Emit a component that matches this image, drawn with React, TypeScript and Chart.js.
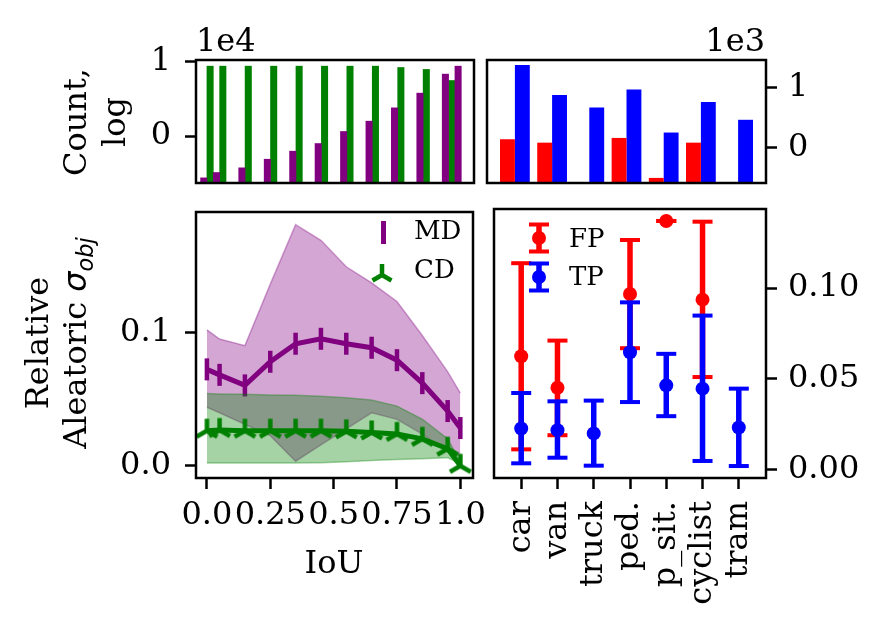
import { useEffect, useRef } from 'react';
import { Chart, ChartConfiguration, Plugin, registerables } from 'chart.js';

Chart.register(...registerables);

const SERIF = "'DejaVu Serif', serif";
const PURPLE = '#800080';
const GREEN = '#008000';
const RED = '#ff0000';
const BLUE = '#0000ff';

Chart.defaults.font.family = SERIF;
Chart.defaults.font.size = 32;
Chart.defaults.color = '#000';

// IoU bins shared by the count bars and the sigma curves
const iouBins = [0, 0.05, 0.15, 0.25, 0.35, 0.45, 0.55, 0.65, 0.75, 0.85, 0.95, 1.0];
const iouTicks = [0, 0.25, 0.5, 0.75, 1.0];
const iouTickLabels = ['0.0', '0.25', '0.5', '0.75', '1.0'];

// counts per IoU bin, shown in units of 1e4
const mdCounts = [-0.561, -0.489, -0.426, -0.31, -0.202, -0.099, 0.063, 0.202, 0.381, 0.579, 0.835, 0.942];
const cdCounts = [0.942, 0.942, 0.942, 0.942, 0.942, 0.942, 0.942, 0.942, 0.924, 0.898, 0.749, null];
const countTicks = [0, 1];

// relative aleatoric sigma_obj per IoU bin
const mdMean = [0.0722, 0.0681, 0.0602, 0.0779, 0.0914, 0.0951, 0.0914, 0.0884, 0.0791, 0.0619, 0.041, 0.0283];
const mdHigh = [0.1018, 0.0949, 0.09, 0.136, 0.1805, 0.1688, 0.149, 0.137, 0.123, 0.0976, 0.0705, 0.0545];
const mdLow = [0.0439, 0.0397, 0.031, 0.0226, 0.0035, 0.0157, 0.0277, 0.0397, 0.0348, 0.0238, 0.0103, 0.008];
const cdMean = [0.0263, 0.0268, 0.0263, 0.0263, 0.0263, 0.0263, 0.0258, 0.025, 0.0239, 0.0202, 0.0128, 0.0];
const cdHigh = [0.0541, 0.0538, 0.0535, 0.053, 0.0528, 0.0521, 0.0509, 0.0492, 0.0447, 0.0349, 0.0202, 0.003];
const cdLow = [0.0022, 0.0022, 0.0022, 0.0022, 0.0022, 0.0024, 0.003, 0.004, 0.0047, 0.0054, 0.0061, 0.0015];
const sigmaTicksLeft = [0, 0.1];

// per class
const classes = ['car', 'van', 'truck', 'ped.', 'p_sit.', 'cyclist', 'tram'];
const classIndex = classes.map((_, i) => i);
// counts, shown in units of 1e3
const fpCounts = [0.141, 0.084, null, 0.163, -0.505, 0.084, null];
const tpCounts = [1.38, 0.882, 0.673, 0.971, 0.253, 0.764, 0.466];
const classCountTicks = [0, 1];
// sigma_obj mean and error bar ends
const fpMean = [0.0624, 0.045, null, 0.0967, 0.137, 0.0936, null];
const fpLow = [0.011, 0.0188, null, 0.0668, 0.137, 0.0509, null];
const fpHigh = [0.1137, 0.071, null, 0.1265, 0.137, 0.1366, null];
const tpMean = [0.0225, 0.0216, 0.0198, 0.0646, 0.0463, 0.0445, 0.0231];
const tpLow = [0.0033, 0.0064, 0.002, 0.0371, 0.0293, 0.0046, 0.0018];
const tpHigh = [0.0421, 0.0375, 0.0379, 0.0921, 0.0637, 0.0848, 0.0445];
const sigmaTicksRight = [0, 0.05, 0.1];

// axis ranges
const IOU_MIN = -0.043;
const IOU_MAX = 1.05;
const CLASS_MIN = -0.75;
const CLASS_MAX = 6.75;
const COUNT_MIN = -0.63;
const COUNT_MAX = 1.025;
const CLASS_COUNT_MIN = -0.59;
const CLASS_COUNT_MAX = 1.465;

const tickGrid = {
  display: true,
  drawOnChartArea: false,
  drawTicks: true,
  offset: false,
  tickLength: 11,
  tickWidth: 2.5,
  tickColor: '#000',
};

const setTicks = (values: number[]) => (scale: any) => {
  scale.ticks = values.map(value => ({ value }));
};
const fixWidth = (w: number) => (scale: any) => {
  scale.width = w;
  scale.paddingTop = 0;
  scale.paddingBottom = 0;
};
const fixHeight = (h: number) => (scale: any) => {
  scale.height = h;
  scale.paddingLeft = 0;
  scale.paddingRight = 0;
};

// matplotlib style box round the plot area
const framePlugin: Plugin = {
  id: 'frame',
  afterDatasetsDraw(chart) {
    const { ctx, chartArea: a } = chart;
    ctx.save();
    ctx.strokeStyle = '#000';
    ctx.lineWidth = 2.5;
    ctx.strokeRect(a.left, a.top, a.right - a.left, a.bottom - a.top);
    ctx.restore();
  },
};

function triUp(color: string, r: number, lw: number) {
  const size = Math.ceil(2 * r + 2 * lw);
  const c = document.createElement('canvas');
  c.width = size;
  c.height = size;
  const g = c.getContext('2d')!;
  g.translate(size / 2, size / 2);
  g.strokeStyle = color;
  g.lineWidth = lw;
  g.beginPath();
  g.moveTo(0, 0);
  g.lineTo(0, -r);
  g.moveTo(0, 0);
  g.lineTo(-r * 0.866, r * 0.5);
  g.moveTo(0, 0);
  g.lineTo(r * 0.866, r * 0.5);
  g.stroke();
  return c;
}

const baseOptions = {
  animation: false as const,
  responsive: true,
  maintainAspectRatio: false,
  plugins: { legend: { display: false }, tooltip: { enabled: false } },
};

const countsByIou = (): ChartConfiguration => ({
  type: 'bar',
  data: {
    datasets: [
      { label: 'MD', data: iouBins.map((x, i) => ({ x, y: mdCounts[i] })) as any, backgroundColor: PURPLE, base: COUNT_MIN },
      { label: 'CD', data: iouBins.map((x, i) => ({ x, y: cdCounts[i] })) as any, backgroundColor: GREEN, base: COUNT_MIN },
    ],
  },
  options: {
    ...baseOptions,
    layout: { padding: { top: 20, right: 6, bottom: 17, left: 0 } },
    datasets: { bar: { categoryPercentage: 1, barPercentage: 1 } },
    scales: {
      x: { type: 'linear', min: IOU_MIN, max: IOU_MAX, offset: false, display: false },
      y: {
        type: 'linear', min: COUNT_MIN, max: COUNT_MAX,
        afterBuildTicks: setTicks(countTicks), afterFit: fixWidth(96),
        grid: tickGrid, border: { display: false },
        ticks: { padding: 14, callback: v => String(v) },
      },
    },
  } as any,
  plugins: [framePlugin],
});

const countsByClass = (): ChartConfiguration => ({
  type: 'bar',
  data: {
    datasets: [
      { label: 'FP', data: classIndex.map(x => ({ x, y: fpCounts[x] })) as any, backgroundColor: RED, base: CLASS_COUNT_MIN },
      { label: 'TP', data: classIndex.map(x => ({ x, y: tpCounts[x] })) as any, backgroundColor: BLUE, base: CLASS_COUNT_MIN },
    ],
  },
  options: {
    ...baseOptions,
    layout: { padding: { top: 20, right: 0, bottom: 17, left: 7 } },
    datasets: { bar: { categoryPercentage: 0.8, barPercentage: 1 } },
    scales: {
      x: { type: 'linear', min: CLASS_MIN, max: CLASS_MAX, offset: false, display: false },
      y: {
        type: 'linear', position: 'right', min: CLASS_COUNT_MIN, max: CLASS_COUNT_MAX,
        afterBuildTicks: setTicks(classCountTicks), afterFit: fixWidth(123),
        grid: tickGrid, border: { display: false },
        ticks: { padding: 11, callback: v => String(v) },
      },
    },
  } as any,
  plugins: [framePlugin],
});

const sigmaByIou = (): ChartConfiguration => {
  const pts = (ys: number[]) => iouBins.map((x, i) => ({ x, y: ys[i] }));
  const band = (color: string) => ({ borderColor: color, borderWidth: 1.5, pointRadius: 0, tension: 0 });
  return {
    type: 'line',
    data: {
      datasets: [
        { ...band('rgba(128,0,128,0.35)'), data: pts(mdHigh), fill: '+1', backgroundColor: 'rgba(128,0,128,0.35)', order: 6 },
        { ...band('rgba(128,0,128,0.35)'), data: pts(mdLow), fill: false, order: 5 },
        {
          label: 'MD', data: pts(mdMean), borderColor: PURPLE, borderWidth: 5, fill: false, order: 4,
          pointStyle: 'line', pointRotation: 90, pointRadius: 11, pointBorderWidth: 4.5, pointBorderColor: PURPLE,
        },
        { ...band('rgba(0,128,0,0.35)'), data: pts(cdHigh), fill: '+1', backgroundColor: 'rgba(0,128,0,0.35)', order: 3 },
        { ...band('rgba(0,128,0,0.35)'), data: pts(cdLow), fill: false, order: 2 },
        {
          label: 'CD', data: pts(cdMean), borderColor: GREEN, borderWidth: 5, fill: false, order: 1,
          pointStyle: triUp(GREEN, 12, 4.5), pointRadius: 12,
        },
      ] as any,
    },
    options: {
      ...baseOptions,
      // the last x label overhangs the right edge, so the canvas is wider and padded to match
      layout: { padding: { top: 13, right: 16, bottom: 0, left: 0 } },
      scales: {
        x: {
          type: 'linear', min: IOU_MIN, max: IOU_MAX,
          afterBuildTicks: setTicks(iouTicks), afterFit: fixHeight(160),
          grid: tickGrid, border: { display: false },
          ticks: { padding: 7, autoSkip: false, maxRotation: 0, minRotation: 0, callback: (_v: any, i: number) => iouTickLabels[i] },
        },
        y: {
          type: 'linear', min: -0.0091, max: 0.19,
          afterBuildTicks: setTicks(sigmaTicksLeft), afterFit: fixWidth(96),
          grid: tickGrid, border: { display: false },
          ticks: { padding: 14, callback: (v: any) => Number(v).toFixed(1) },
        },
      },
    } as any,
    plugins: [framePlugin],
  };
};

const sigmaByClass = (): ChartConfiguration => {
  const bars = (lo: (number | null)[], hi: (number | null)[]) =>
    classIndex.flatMap(x => (lo[x] == null ? [] : [{ x, y: lo[x] }, { x, y: hi[x] }, { x, y: null }]));
  const caps = (lo: (number | null)[], hi: (number | null)[]) =>
    classIndex.flatMap(x => (lo[x] == null ? [] : [{ x, y: lo[x] }, { x, y: hi[x] }]));
  const means = (m: (number | null)[]) => classIndex.filter(x => m[x] != null).map(x => ({ x, y: m[x] }));
  const series = (color: string, m: (number | null)[], lo: (number | null)[], hi: (number | null)[], order: number) => [
    { type: 'line', data: bars(lo, hi), borderColor: color, borderWidth: 5.5, pointRadius: 0, spanGaps: false, showLine: true, order: order + 2 },
    { data: caps(lo, hi), pointStyle: 'line', pointRadius: 10, pointBorderWidth: 4, pointBorderColor: color, order: order + 1 },
    { data: means(m), pointStyle: 'circle', pointRadius: 7, pointBorderWidth: 0, pointBackgroundColor: color, order },
  ];
  return {
    type: 'scatter',
    data: {
      datasets: [...series(RED, fpMean, fpLow, fpHigh, 4), ...series(BLUE, tpMean, tpLow, tpHigh, 1)] as any,
    },
    options: {
      ...baseOptions,
      layout: { padding: { top: 13, right: 0, bottom: 0, left: 7 } },
      scales: {
        x: {
          type: 'linear', min: CLASS_MIN, max: CLASS_MAX,
          afterBuildTicks: setTicks(classIndex), afterFit: fixHeight(160),
          grid: tickGrid, border: { display: false },
          ticks: { padding: 12, autoSkip: false, maxRotation: 90, minRotation: 90, callback: (v: any) => classes[v] },
        },
        y: {
          type: 'linear', position: 'right', min: -0.0048, max: 0.1436,
          afterBuildTicks: setTicks(sigmaTicksRight), afterFit: fixWidth(123),
          grid: tickGrid, border: { display: false },
          ticks: { padding: 11, callback: (v: any) => Number(v).toFixed(2) },
        },
      },
    } as any,
    plugins: [framePlugin],
  };
};

function Panel({ box, make }: { box: [number, number, number, number]; make: () => ChartConfiguration }) {
  const ref = useRef<HTMLCanvasElement>(null);
  useEffect(() => {
    if (!ref.current) return;
    const chart = new Chart(ref.current, make());
    return () => chart.destroy();
  }, [make]);
  return (
    <div style={{ position: 'absolute', left: box[0], top: box[1], width: box[2], height: box[3] }}>
      <canvas ref={ref} />
    </div>
  );
}

// place text by its baseline (line-height equal to font size)
function Text({ x, base, size = 32, align = 'left', children }: any) {
  const top = base - size * 0.846;
  const style: any = { position: 'absolute', top, fontSize: size, lineHeight: `${size}px`, fontFamily: SERIF, whiteSpace: 'nowrap' };
  if (align === 'left') style.left = x;
  if (align === 'right') style.right = 889 - x;
  if (align === 'center') Object.assign(style, { left: x - 150, width: 300, textAlign: 'center' });
  return <div style={style}>{children}</div>;
}

function RotatedTitle({ cx, cy, lh, children }: any) {
  const h = lh * 2;
  return (
    <div style={{
      position: 'absolute', left: cx - 200, top: cy - h / 2, width: 400, height: h,
      transform: 'rotate(-90deg)', textAlign: 'center', fontSize: 32, lineHeight: `${lh}px`,
      fontFamily: SERIF, whiteSpace: 'nowrap',
    }}>
      {children}
    </div>
  );
}

function ErrGlyph({ cx, cy, color }: { cx: number; cy: number; color: string }) {
  return (
    <svg style={{ position: 'absolute', left: cx - 12, top: cy - 17 }} width={24} height={34}>
      <line x1={12} y1={3.5} x2={12} y2={30.5} stroke={color} strokeWidth={5.5} />
      <line x1={2} y1={3.5} x2={22} y2={3.5} stroke={color} strokeWidth={4} />
      <line x1={2} y1={30.5} x2={22} y2={30.5} stroke={color} strokeWidth={4} />
      <circle cx={12} cy={17} r={7} fill={color} />
    </svg>
  );
}

export default function App() {
  return (
    <div style={{ position: 'absolute', left: 0, top: 0, width: 889, height: 638, background: '#fff', overflow: 'hidden' }}>
      <Panel box={[100, 40, 380, 160]} make={countsByIou} />
      <Panel box={[480, 40, 409, 160]} make={countsByClass} />
      <Panel box={[100, 195, 390, 443]} make={sigmaByIou} />
      <Panel box={[480, 195, 409, 443]} make={sigmaByClass} />

      <Text x={196} base={50.7}>1e4</Text>
      <Text x={765} base={50.7} align="right">1e3</Text>
      <Text x={334} base={573} align="center">IoU</Text>

      <RotatedTitle cx={95} cy={121.5} lh={39}>
        <div>Count,</div>
        <div>log</div>
      </RotatedTitle>
      <RotatedTitle cx={56.2} cy={343} lh={38}>
        <div>Relative</div>
        <div>
          Aleatoric{' '}
          <span style={{ fontFamily: "'DejaVu Sans', sans-serif", fontStyle: 'italic' }}>
            σ<span style={{ fontSize: '0.7em', position: 'relative', top: '0.3em', lineHeight: 0 }}>obj</span>
          </span>
        </div>
      </RotatedTitle>

      {/* legend, aleatoric vs IoU */}
      <div style={{ position: 'absolute', left: 380.7, top: 221, width: 5, height: 23, background: PURPLE }} />
      <Text x={414} base={239.3} size={26}>MD</Text>
      <svg style={{ position: 'absolute', left: 382.3 - 15, top: 275 - 15 }} width={30} height={30}>
        <path d="M15 15 L15 4 M15 15 L5.5 20.5 M15 15 L24.5 20.5" stroke={GREEN} strokeWidth={4.5} fill="none" />
      </svg>
      <Text x={414} base={278.3} size={26}>CD</Text>

      {/* legend, aleatoric per class */}
      <ErrGlyph cx={539} cy={238.3} color={RED} />
      <Text x={569} base={246.7} size={26}>FP</Text>
      <ErrGlyph cx={539} cy={276.7} color={BLUE} />
      <Text x={569} base={285} size={26}>TP</Text>
    </div>
  );
}
